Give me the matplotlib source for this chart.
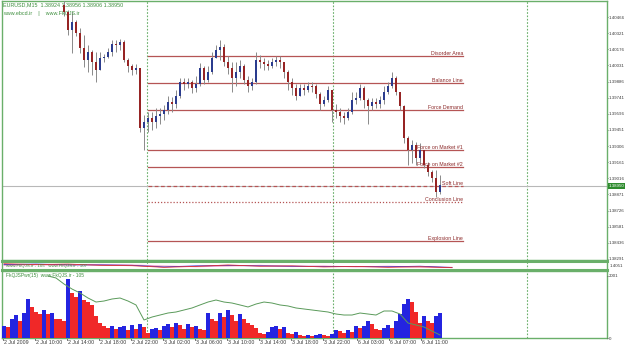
import numpy as np
import matplotlib
matplotlib.use("Agg")
import matplotlib.pyplot as plt
import matplotlib.transforms as mtransforms

plt.rcParams['font.family'] = ['Liberation Sans', 'DejaVu Sans']

# ---- data (EURUSD, 30 min bars, bar index 0 = 2 Jul 06:00) ----
first_bar = 15
open0 = 1.40575
closes = [1.40512, 1.40350, 1.40422, 1.40323, 1.40188, 1.40080, 1.40152, 1.40062, 1.39990, 1.40098,
          1.40107, 1.40152, 1.40224, 1.40215, 1.40242, 1.40080, 1.40026, 1.39990, 1.40008, 1.39468,
          1.39522, 1.39558, 1.39522, 1.39576, 1.39594, 1.39630, 1.39702, 1.39684, 1.39756, 1.39882,
          1.39864, 1.39882, 1.39828, 1.39864, 1.40008, 1.39900, 1.39972, 1.40098, 1.40170, 1.40197,
          1.40062, 1.40008, 1.39918, 1.39972, 1.40026, 1.39900, 1.39846, 1.39882, 1.40080, 1.40062,
          1.40044, 1.40026, 1.40062, 1.40080, 1.40062, 1.39972, 1.39882, 1.39828, 1.39756, 1.39828,
          1.39810, 1.39846, 1.39840, 1.39774, 1.39684, 1.39720, 1.39810, 1.39630, 1.39612, 1.39576,
          1.39558, 1.39612, 1.39720, 1.39738, 1.39828, 1.39720, 1.39666, 1.39702, 1.39684, 1.39720,
          1.39792, 1.39846, 1.39918, 1.39792, 1.39666, 1.39378, 1.39270, 1.39315, 1.39198, 1.39270,
          1.39135, 1.39072, 1.39018, 1.38892, 1.38950]
highs = [1.40620, 1.40530, 1.40512, 1.40440, 1.40368, 1.40305, 1.40215, 1.40170, 1.40152, 1.40152,
         1.40134, 1.40188, 1.40260, 1.40260, 1.40269, 1.40260, 1.40098, 1.40044, 1.40044, 1.40008,
         1.39585, 1.39612, 1.39612, 1.39648, 1.39648, 1.39675, 1.39756, 1.39747, 1.39810, 1.39918,
         1.39918, 1.39918, 1.39900, 1.39936, 1.40053, 1.40026, 1.40026, 1.40152, 1.40215, 1.40260,
         1.40224, 1.40116, 1.40062, 1.40062, 1.40080, 1.40044, 1.39936, 1.39918, 1.40152, 1.40125,
         1.40098, 1.40080, 1.40098, 1.40116, 1.40116, 1.40062, 1.39990, 1.39918, 1.39864, 1.39864,
         1.39864, 1.39882, 1.39882, 1.39864, 1.39792, 1.39756, 1.39846, 1.39720, 1.39684, 1.39648,
         1.39612, 1.39648, 1.39792, 1.39792, 1.39864, 1.39846, 1.39738, 1.39738, 1.39738, 1.39756,
         1.39846, 1.39882, 1.39972, 1.39936, 1.39792, 1.39675, 1.39396, 1.39360, 1.39342, 1.39333,
         1.39270, 1.39162, 1.39090, 1.39090, 1.39045]
lows = [1.40476, 1.40305, 1.40143, 1.40296, 1.40143, 1.40017, 1.39972, 1.39945, 1.39882, 1.40008,
        1.40062, 1.40098, 1.40116, 1.40152, 1.40170, 1.40062, 1.39972, 1.39945, 1.39954, 1.39432,
        1.39270, 1.39432, 1.39450, 1.39468, 1.39504, 1.39540, 1.39594, 1.39612, 1.39648, 1.39738,
        1.39810, 1.39828, 1.39783, 1.39792, 1.39846, 1.39864, 1.39882, 1.39954, 1.40098, 1.40080,
        1.40026, 1.39954, 1.39792, 1.39846, 1.39918, 1.39864, 1.39792, 1.39810, 1.39864, 1.40008,
        1.39990, 1.39990, 1.40008, 1.40026, 1.40008, 1.39918, 1.39810, 1.39765, 1.39720, 1.39756,
        1.39765, 1.39792, 1.39792, 1.39738, 1.39630, 1.39666, 1.39702, 1.39522, 1.39558, 1.39522,
        1.39504, 1.39540, 1.39594, 1.39684, 1.39720, 1.39648, 1.39504, 1.39630, 1.39648, 1.39648,
        1.39684, 1.39774, 1.39828, 1.39765, 1.39630, 1.39333, 1.39135, 1.39153, 1.39135, 1.39144,
        1.39108, 1.39036, 1.38982, 1.38847, 1.38874]

volumes = [394, 364, 606, 727, 545, 788, 1242, 1000, 848, 758,
           909, 758, 788, 606, 606, 545, 1900, 1454, 1300, 1515,
           1212, 1150, 1060, 697, 485, 394, 333, 394, 303, 364,
           394, 242, 424, 303, 454, 364, 151, 303, 333, 272,
           394, 454, 364, 485, 424, 303, 454, 364, 394, 303,
           242, 788, 606, 545, 788, 666, 909, 727, 545, 758,
           606, 485, 424, 333, 151, 121, 182, 364, 394, 303,
           364, 151, 121, 182, 91, 61, 91, 61, 91, 121,
           91, 61, 121, 242, 212, 151, 242, 182, 394, 333,
           394, 545, 454, 303, 242, 333, 424, 333, 545, 758,
           1090, 1242, 1150, 848, 485, 697, 545, 485, 697, 788]

osc_first = 11   # one value every second bar
osc = [92.5, 89.6, 80.6, 73.1, 67.2, 59.7, 53.7, 55.2, 58.2, 59.7,
       55.2, 49.3, 26.9, 31.3, 34.3, 37.3, 38.8, 41.8, 44.8, 49.3,
       53.7, 56.7, 53.7, 52.2, 49.3, 46.3, 50.7, 53.7, 52.2, 49.3,
       47.8, 44.8, 43.3, 41.8, 40.3, 38.8, 35.8, 34.3, 34.3, 37.3,
       35.8, 34.3, 40.3, 40.3, 35.8, 22.4, 19.4, 16.4, 10.4, 4.5]

# strip indicator, one value every 8 bars (4 hours)
strip_blue = [0.60, 0.66, 0.58, 0.56, 0.52, 0.34, 0.46, 0.50, 0.46, 0.42, 0.40, 0.38, 0.36, 0.42, 0.28]
strip_red = [0.70, 0.60, 0.66, 0.52, 0.48, 0.30, 0.40, 0.56, 0.42, 0.46, 0.34, 0.40, 0.30, 0.36, 0.26]
strip_pink = [0.52, 0.58, 0.52, 0.62, 0.56, 0.44, 0.36, 0.44, 0.52, 0.38, 0.44, 0.34, 0.42, 0.32, 0.30]

level_names = ["Disorder Area", "Balance Line", "Force Demand", "Force on Market #1",
               "Force on Market #2", "Soft Line", "Conclusion Line", "Explosion Line"]
level_prices = [1.40116, 1.39873, 1.39630, 1.39270, 1.39117, 1.38945, 1.38802, 1.38451]
level_ls = ['-', '-', '-', '-', '-', (0, (3, 2)), (0, (1, 1.5)), '-']
level_from, level_to = 72.5, 230   # in 15-min bar units

price_ticks = [1.40466 - 0.00145 * i for i in range(16)]
last_price = 1.38950

time_labels = ["2 Jul 2009", "2 Jul 10:00", "2 Jul 14:00", "2 Jul 18:00", "2 Jul 22:00",
               "3 Jul 02:00", "3 Jul 06:00", "3 Jul 10:00", "3 Jul 14:00", "3 Jul 18:00",
               "3 Jul 22:00", "6 Jul 03:00", "6 Jul 07:00", "6 Jul 11:00"]
time_pos = [0, 16, 32, 48, 64, 80, 96, 112, 128, 144, 160, 177, 193, 209]
separators = [72, 165, 262]

GREEN = '#6aaf6a'
TXT_GREEN = '#3f8f3f'
LEVEL_RED = '#b55555'
LABEL_RED = '#8c2a2a'
BULL = '#2b3c8e'
BEAR = '#962424'
WICK = '#8a8a8a'
AXTXT = '#3a3a3a'

W, H = 625, 348
fig = plt.figure(figsize=(W / 100, H / 100), dpi=100)
fig.patch.set_facecolor('white')


def box(x0, y0, x1, y1):
    return [x0 / W, 1 - y1 / H, (x1 - x0) / W, (y1 - y0) / H]


ax = fig.add_axes(box(2, 1, 607, 260))
ax_s = fig.add_axes(box(2, 261, 607, 270))
ax_v = fig.add_axes(box(2, 271, 607, 338))
ax_o = ax_v.twinx()   # oscillator line over the volumes

for a in (ax, ax_s, ax_v):
    a.set_xlim(-0.5, 302)
    a.set_facecolor('white')
    for s in a.spines.values():
        s.set_color(GREEN)
        s.set_linewidth(1)
    a.set_xticks([])
    for sx in separators:
        a.axvline(sx, color=GREEN, lw=0.8, ls=(0, (1.5, 1.5)), zorder=1)

# ---- price panel ----
ax.set_ylim(1.38282, 1.40610)
o = np.array([open0] + closes[:-1])
c = np.array(closes)
hi = np.maximum(np.array(highs), np.maximum(o, c))
lo = np.minimum(np.array(lows), np.minimum(o, c))
xs = 2 * np.arange(first_bar, first_bar + len(c)) + 0.5
up = c >= o
ax.vlines(xs, lo, hi, color=WICK, lw=0.7, zorder=3)
ax.bar(xs, np.abs(c - o) + 0.00002, bottom=np.minimum(o, c), width=1.2,
       color=np.where(up, BULL, BEAR), edgecolor='none', zorder=4)

ax.axhline(last_price, color='#b8b8b8', lw=0.8, zorder=2)
for name, p, ls in zip(level_names, level_prices, level_ls):
    ax.plot([level_from, level_to], [p, p], color=LEVEL_RED, lw=0.9, ls=ls, zorder=2)
    ax.text(level_to, p + 0.00003, name, ha='right', va='bottom', fontsize=3.8,
            color=LABEL_RED, zorder=5)

ax.yaxis.tick_right()
ax.set_yticks(price_ticks)
ax.set_yticklabels(["%.5f" % t for t in price_ticks])
ax.tick_params(axis='y', length=1.0, width=0.6, color='#555555', pad=0.4,
               labelsize=3.2, labelcolor=AXTXT)
ax.annotate("%.5f" % last_price, xy=(1.0, last_price),
            xycoords=mtransforms.blended_transform_factory(ax.transAxes, ax.transData),
            xytext=(1.0, 0), textcoords='offset points', ha='left', va='center',
            fontsize=3.2, color='white',
            bbox=dict(boxstyle='square,pad=0.2', fc='#2e8b2e', ec='none'))

ax.text(0.002, 0.995, "EURUSD,M15  1.38924 1.38956 1.38906 1.38950", transform=ax.transAxes,
        ha='left', va='top', fontsize=3.9, color=TXT_GREEN)
ax.text(0.002, 0.962, "www.ebcd.ir    |    www.FkQJS.ir", transform=ax.transAxes,
        ha='left', va='top', fontsize=3.9, color=TXT_GREEN)

# ---- thin indicator strip ----
for s in ax_s.spines.values():
    s.set_linewidth(2.2)
ax_s.spines['left'].set_linewidth(1)
ax_s.spines['right'].set_linewidth(1)
ax_s.set_ylim(0, 1)
sx_pts = 16 * np.arange(len(strip_blue)) + 0.5
ax_s.plot(sx_pts, strip_pink, color='#f0a0c8', lw=0.7, zorder=3)
ax_s.plot(sx_pts, strip_blue, color='#3030d0', lw=0.6, zorder=3)
ax_s.plot(sx_pts, strip_red, color='#e03030', lw=0.6, zorder=3)
ax_s.text(0.006, 0.5, "www.FkQJS.ir - 105   www.FkQJS.ir - 107", transform=ax_s.transAxes,
          ha='left', va='center', fontsize=3.2, color=TXT_GREEN, zorder=4)
ax_s.yaxis.tick_right()
ax_s.set_yticks([0.55])
ax_s.set_yticklabels(["1.4051"])
ax_s.tick_params(axis='y', length=0, pad=1.6, labelsize=3.2, labelcolor=AXTXT)

# ---- volume panel ----
v = np.array(volumes)
vx = 2 * np.arange(len(v)) + 0.5
vcol = np.where(np.concatenate([[True], v[1:] > v[:-1]]), '#2424e0', '#f02828')
ax_v.bar(vx, v, width=2.0, color=vcol, edgecolor='none', zorder=3)
ax_v.set_ylim(0, 2150)
ax_v.set_yticks([])

ax_o.set_xlim(-0.5, 302)
ax_o.set_ylim(0, 100)
ox = 2 * (osc_first + 2 * np.arange(len(osc))) + 0.5
ax_o.plot(ox, osc, color='#5a9a5a', lw=0.7, zorder=4)
for s in ax_o.spines.values():
    s.set_visible(False)
# right-hand volume scale, placed on the twin axis
ax_o.set_yticks([0, 2001 / 2150 * 100])
ax_o.set_yticklabels(["0", "2001"])
ax_o.tick_params(axis='y', length=1.0, width=0.6, color='#555555', pad=0.4,
                 labelsize=3.2, labelcolor=AXTXT)
ax_v.text(0.006, 0.97, "FkQJSPwr(15)  www.FkQJS.ir - 105", transform=ax_v.transAxes,
          ha='left', va='top', fontsize=3.5, color=TXT_GREEN)

# time axis
tb = mtransforms.blended_transform_factory(ax_v.transData, ax_v.transAxes)
for lab, k in zip(time_labels, time_pos):
    ax_v.text(k + 0.6, -0.03, lab, transform=tb, ha='left', va='top', fontsize=3.8,
              color=AXTXT, clip_on=False)
    ax_v.plot([k, k], [0, -0.03], transform=tb, color='#555555', lw=0.6, clip_on=False)

fig.savefig("out.png", dpi=100, facecolor='white')
